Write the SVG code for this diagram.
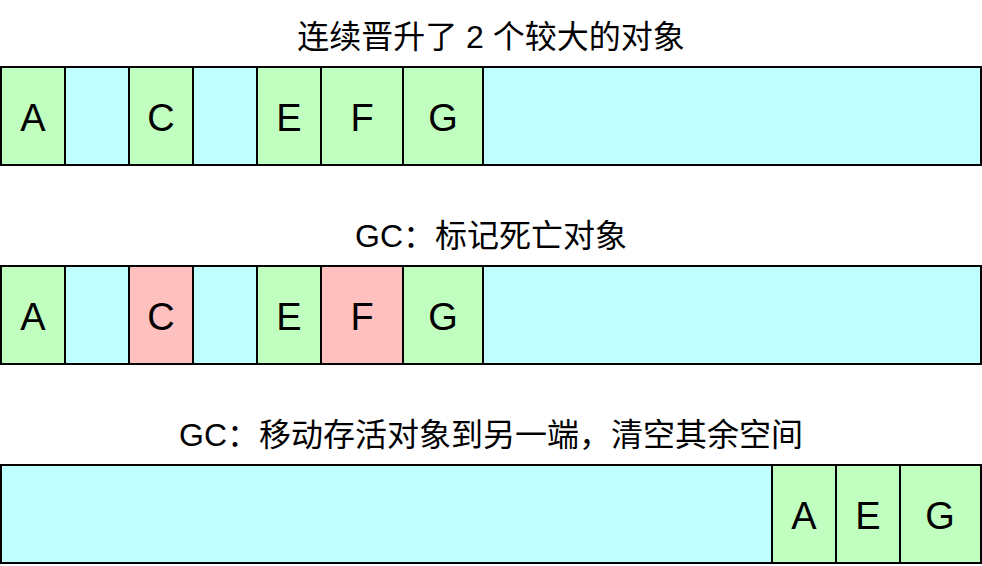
<svg xmlns="http://www.w3.org/2000/svg" width="982" height="566" viewBox="0 0 982 566">
<style>
.title{font-family:"Liberation Sans","Noto Sans CJK SC",sans-serif;font-size:32px;fill:#000;text-anchor:middle}
.lbl{font-family:"Liberation Sans",Arial,sans-serif;font-size:38px;fill:#000;text-anchor:middle}
.g{fill:#c0ffc0;stroke:#000;stroke-width:2}
.b{fill:#c0ffff;stroke:#000;stroke-width:2}
.r{fill:#ffc0c0;stroke:#000;stroke-width:2}
</style>
<rect width="982" height="566" fill="#fff"/>
<g id="titles">
<text class="title" x="491" y="48">连续晋升了 2 个较大的对象</text>
<text class="title" x="491" y="247">GC：标记死亡对象</text>
<text class="title" x="491" y="446">GC：移动存活对象到另一端，清空其余空间</text>
</g>
<g id="row1">
<g id="r1-free"><rect class="b" x="1" y="67" width="980" height="98"/></g>
<g id="r1-A"><rect class="g" x="1" y="67" width="64" height="98"/><text class="lbl" x="33" y="131">A</text></g>
<g id="r1-gap1"><rect class="b" x="65" y="67" width="64" height="98"/></g>
<g id="r1-C"><rect class="g" x="129" y="67" width="64" height="98"/><text class="lbl" x="161" y="131">C</text></g>
<g id="r1-gap2"><rect class="b" x="193" y="67" width="64" height="98"/></g>
<g id="r1-E"><rect class="g" x="257" y="67" width="64" height="98"/><text class="lbl" x="289" y="131">E</text></g>
<g id="r1-F"><rect class="g" x="321" y="67" width="82" height="98"/><text class="lbl" x="362" y="131">F</text></g>
<g id="r1-G"><rect class="g" x="403" y="67" width="80" height="98"/><text class="lbl" x="443" y="131">G</text></g>
</g>
<g id="row2">
<g id="r2-free"><rect class="b" x="1" y="266" width="980" height="98"/></g>
<g id="r2-A"><rect class="g" x="1" y="266" width="64" height="98"/><text class="lbl" x="33" y="330">A</text></g>
<g id="r2-gap1"><rect class="b" x="65" y="266" width="64" height="98"/></g>
<g id="r2-C"><rect class="r" x="129" y="266" width="64" height="98"/><text class="lbl" x="161" y="330">C</text></g>
<g id="r2-gap2"><rect class="b" x="193" y="266" width="64" height="98"/></g>
<g id="r2-E"><rect class="g" x="257" y="266" width="64" height="98"/><text class="lbl" x="289" y="330">E</text></g>
<g id="r2-F"><rect class="r" x="321" y="266" width="82" height="98"/><text class="lbl" x="362" y="330">F</text></g>
<g id="r2-G"><rect class="g" x="403" y="266" width="80" height="98"/><text class="lbl" x="443" y="330">G</text></g>
</g>
<g id="row3">
<g id="r3-free"><rect class="b" x="1" y="465" width="980" height="98"/></g>
<g id="r3-A"><rect class="g" x="772" y="465" width="64" height="98"/><text class="lbl" x="804" y="529">A</text></g>
<g id="r3-E"><rect class="g" x="836" y="465" width="64" height="98"/><text class="lbl" x="868" y="529">E</text></g>
<g id="r3-G"><rect class="g" x="900" y="465" width="81" height="98"/><text class="lbl" x="940" y="529">G</text></g>
</g>
<g id="connectors"/>
</svg>
